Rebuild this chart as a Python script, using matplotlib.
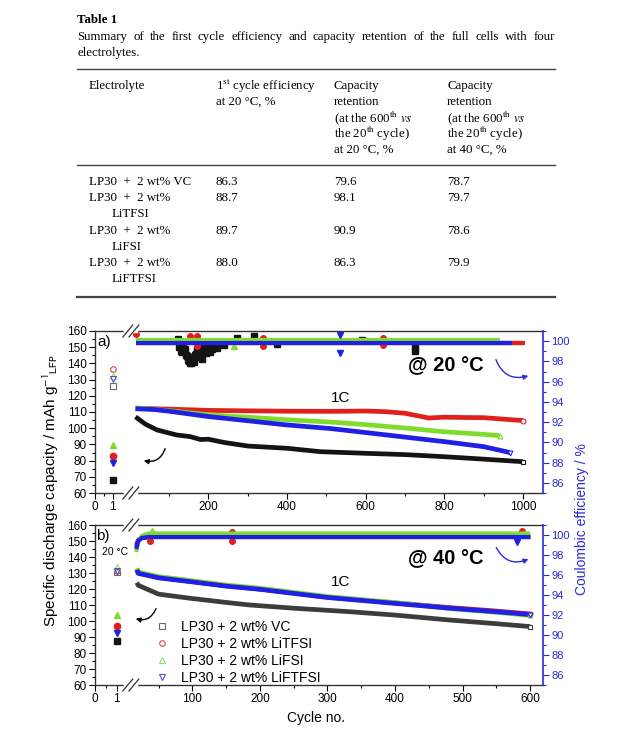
import numpy as np
import matplotlib
matplotlib.use('Agg')
import matplotlib.pyplot as plt
from matplotlib.lines import Line2D
from matplotlib.patches import FancyArrowPatch
from matplotlib.ticker import FixedLocator, MultipleLocator

plt.rcParams['font.family'] = ['Liberation Sans', 'DejaVu Sans']

# ---- Table 1 values ----
additives = ['VC', 'LiTFSI', 'LiFSI', 'LiFTFSI']
first_eff = ['86.3', '88.7', '89.7', '88.0']
ret_20C = ['79.6', '98.1', '90.9', '86.3']
ret_40C = ['78.7', '79.7', '78.6', '79.9']

# ---- panel a) 20 C, cycles 1..1000 ----
a_cyc1_cap = [126.0, 136.3, 132.5, 130.2]     # open symbols, left axis
a_cyc1_ce = [86.3, 88.7, 89.7, 88.0]          # filled symbols, right axis
a_cap_c = [
    [15, 40, 70, 120, 154, 180, 200, 240, 300, 400, 485, 600, 700, 800, 900, 1000],
    [15, 100, 200, 300, 400, 510, 600, 650, 700, 760, 800, 850, 900, 950, 1000],
    [15, 100, 200, 300, 400, 510, 600, 700, 800, 900, 940],
    [15, 60, 100, 200, 300, 400, 510, 600, 700, 800, 900, 966],
]
a_cap_q = [
    [107.0, 102.5, 98.9, 95.8, 94.8, 93.0, 93.2, 91.2, 89.0, 87.6, 85.5, 84.5, 83.7, 82.4, 80.9, 79.3],
    [112.3, 111.8, 111.0, 110.7, 110.5, 110.4, 110.6, 110.2, 109.2, 106.3, 106.8, 106.6, 106.5, 105.6, 104.7],
    [112.6, 110.8, 108.3, 106.8, 105.2, 103.8, 102.2, 100.1, 97.8, 96.2, 95.4],
    [112.0, 111.6, 110.5, 107.2, 104.6, 102.0, 99.8, 97.3, 94.5, 91.7, 88.6, 85.0],
]
a_ce_c = [[15, 1000], [15, 1005], [15, 940], [15, 972]]
a_ce_v = [[99.8, 99.8], [99.85, 99.85], [100.1, 100.1], [99.85, 99.85]]
a_out_c = [
    [122, 125, 130, 132, 136, 140, 143, 145, 148, 150, 153, 155, 158, 160, 163, 166, 168, 172, 176,
     180, 183, 185, 190, 195, 200, 205, 210, 215, 222, 240, 273, 315, 375, 590, 726, 726],
    [17, 154, 171, 171, 340, 340, 644, 644],
    [264],
    [534, 534],
]
a_out_v = [
    [100.2, 99.4, 99.0, 98.9, 99.3, 99.2, 98.6, 98.5, 98.1, 98.0, 97.8, 97.8, 98.4, 98.3, 97.9, 98.6,
     98.7, 99.1, 98.4, 98.9, 99.2, 98.2, 99.3, 98.8, 99.5, 98.9, 99.2, 99.6, 99.3, 99.6, 100.3, 100.5,
     99.7, 100.1, 99.5, 99.0],
    [100.7, 100.5, 100.55, 99.5, 100.35, 99.5, 100.35, 99.6],
    [99.5],
    [100.6, 98.8],
]

# ---- panel b) 40 C, cycles 1..600 ----
b_cyc1_cap = [130.5, 131.0, 134.0, 131.2]
b_cyc1_ce = [89.4, 90.95, 92.0, 90.2]
b_cap_c = [
    [18, 20, 50, 97, 150, 185, 250, 333, 400, 481, 550, 600],
    [18, 20, 50, 97, 150, 200, 300, 400, 481, 550, 600],
    [18, 20, 50, 97, 150, 200, 300, 400, 481, 550, 600],
    [18, 20, 50, 97, 150, 200, 300, 400, 481, 550, 600],
]
b_cap_q = [
    [124.0, 122.3, 116.8, 114.2, 111.6, 110.0, 108.0, 105.8, 103.7, 100.6, 98.3, 96.5],
    [132.3, 130.1, 127.2, 124.8, 122.0, 120.0, 114.9, 111.3, 108.4, 106.2, 104.4],
    [133.0, 130.6, 127.8, 125.3, 122.5, 120.5, 115.3, 111.5, 107.8, 105.4, 103.5],
    [132.0, 129.8, 127.0, 124.6, 121.8, 119.8, 114.7, 111.0, 108.0, 105.8, 104.0],
]
b_ce_c = [[17, 20, 25, 35, 600]] * 4
b_ce_v = [
    [99.0, 99.5, 99.7, 99.8, 99.8],
    [98.8, 99.4, 99.7, 99.8, 99.8],
    [98.3, 99.3, 99.9, 100.15, 100.15],
    [98.6, 99.4, 99.7, 99.8, 99.8],
]
b_out_c = [[], [37, 158, 158, 587], [40], [580]]
b_out_v = [[], [99.45, 100.3, 99.4, 100.45], [100.4], [99.3]]

names = ['LP30 + 2 wt% ' + a for a in additives]
colors = ['#141414', '#e0201c', '#7fdc2a', '#1f1fe6']
light = ['#6a6a6a', '#d04848', '#90e070', '#5050d0']
marks = ['s', 'o', '^', 'v']
blue = '#2b2bd9'

W, H = 637, 746
fig = plt.figure(figsize=(W / 100, H / 100), dpi=100)


def fx(px):
    return px / W


def fy(py):
    return 1 - py / H


def hline(y, x0=77, x1=555, lw=1.0):
    fig.add_artist(Line2D([fx(x0), fx(x1)], [fy(y), fy(y)], color='#444444', lw=lw,
                          transform=fig.transFigure))


# ---------------- table ----------------
serif = dict(family='Liberation Serif', fontsize=9.3, va='center', math_fontfamily='stix')


def justified(line, x0, x1, y):
    words = line.split()
    texts = [fig.text(fx(x0), fy(y), w, **serif) for w in words]
    rend = fig.canvas.get_renderer()
    widths = [t.get_window_extent(rend).width for t in texts]
    gap = (x1 - x0 - sum(widths)) / (len(words) - 1)
    x = x0
    for t, w in zip(texts, widths):
        t.set_x(fx(x))
        x += w + gap


fig.text(fx(77), fy(20), 'Table 1', weight='bold', **serif)
justified('Summary of the first cycle efficiency and capacity retention of the full cells with four',
          77, 555, 37)
fig.text(fx(77), fy(53), 'electrolytes.', **serif)
hline(69)
fig.text(fx(89), fy(86), 'Electrolyte', **serif)
col2 = ['1$^{\\rm st}$ cycle efficiency', 'at 20 \u00b0C, %']
col3 = ['Capacity', 'retention', '(at the 600$^{\\rm th}$ $\\it{vs}$', 'the 20$^{\\rm th}$ cycle)', 'at 20 \u00b0C, %']
col4 = ['Capacity', 'retention', '(at the 600$^{\\rm th}$ $\\it{vs}$', 'the 20$^{\\rm th}$ cycle)', 'at 40 \u00b0C, %']
for i, s in enumerate(col2):
    fig.text(fx(216), fy(86 + 16 * i), s, **serif)
for i, s in enumerate(col3):
    fig.text(fx(334), fy(86 + 16 * i), s, **serif)
for i, s in enumerate(col4):
    fig.text(fx(447), fy(86 + 16 * i), s, **serif)
hline(165)
row_y = [182, 198, 231, 263]
for i, a in enumerate(additives):
    y = row_y[i]
    if i == 0:
        fig.text(fx(89), fy(y), 'LP30  +  2 wt% ' + a, **serif)
    else:
        fig.text(fx(89), fy(y), 'LP30  +  2 wt%', **serif)
        fig.text(fx(112), fy(y + 16), a, **serif)
    fig.text(fx(216), fy(y), first_eff[i], **serif)
    fig.text(fx(334), fy(y), ret_20C[i], **serif)
    fig.text(fx(447), fy(y), ret_40C[i], **serif)
hline(296.5, lw=1.6)


# ---------------- charts ----------------
def piecewise(k1, knee, k2):
    xs = np.array([-100.0, knee, 5000.0])
    ps = np.array([-100.0 * k1, knee * k1, knee * k1 + (5000.0 - knee) * k2])
    return (lambda x: np.interp(x, xs, ps), lambda p: np.interp(p, ps, xs))


def panel(top, bot, k1, knee, k2, cmax, majors, minors, cyc1_cap, cyc1_ce,
          cap_c, cap_q, ce_c, ce_v, out_c, out_v, vc_col):
    ax = fig.add_axes([fx(95), fy(bot), (543 - 95) / W, (bot - top) / H])
    ax.set_xscale('function', functions=piecewise(k1, knee, k2))
    ax.set_xlim(0, cmax)
    ax.set_ylim(60, 160)
    ax.xaxis.set_major_locator(FixedLocator(majors))
    ax.xaxis.set_minor_locator(FixedLocator(minors))
    ax.set_xticklabels([str(m) for m in majors])
    ax.yaxis.set_major_locator(MultipleLocator(10))
    ax.yaxis.set_minor_locator(MultipleLocator(5))
    ax.tick_params(which='both', direction='out', labelsize=8.5, width=0.8, pad=2)
    ax.tick_params(which='major', length=4)
    ax.tick_params(which='minor', length=2.5)
    ax.spines['right'].set_visible(False)
    for s in ['left', 'bottom', 'top']:
        ax.spines[s].set_color('#333333')
        ax.spines[s].set_linewidth(1.0)

    ax2 = ax.twinx()
    ax2.set_ylim(85, 101)
    ax2.yaxis.set_major_locator(FixedLocator(list(range(86, 101, 2))))
    ax2.yaxis.set_minor_locator(MultipleLocator(1))
    ax2.tick_params(which='both', direction='out', colors=blue, labelsize=8, width=0.8, pad=2)
    ax2.tick_params(which='major', length=4)
    ax2.tick_params(which='minor', length=2.5)
    for s in ['left', 'top', 'bottom']:
        ax2.spines[s].set_visible(False)
    ax2.spines['right'].set_color(blue)
    ax2.spines['right'].set_linewidth(1.2)

    for i in range(4):
        col = vc_col if i == 0 else colors[i]
        ax.plot(cap_c[i], cap_q[i], color=col, lw=3.4, solid_capstyle='butt', zorder=2 + i)
        ax.plot(cap_c[i][-1], cap_q[i][-1], marks[i], ms=3.5, mfc='white', mec=col,
                mew=0.8, zorder=7)
        ax.plot(1, cyc1_cap[i], marks[i], ms=4, mfc='none', mec=light[i], mew=0.8)
        ax2.plot(ce_c[i], ce_v[i], color=colors[i], lw=3.0, solid_capstyle='butt', zorder=2 + i)
        ax2.plot(out_c[i], out_v[i], marks[i], ls='none', color=colors[i], ms=4, zorder=2 + i)
        ax2.plot(1, cyc1_ce[i], marks[i], color=colors[i], ms=4.5)

    # axis break marks
    xb = 0.08
    for yb in (0, 1):
        ax2.plot([xb - 0.012, xb + 0.012], [yb, yb], color='white', lw=2.5,
                 transform=ax2.transAxes, clip_on=False, zorder=20)
        for dx in (-0.0068, 0.0068):
            ax2.plot([xb + dx - 0.011, xb + dx + 0.011], [yb - 0.037, yb + 0.037],
                     color='#333333', lw=0.9, transform=ax2.transAxes, clip_on=False, zorder=21)
    return ax, ax2


panel(331, 493, 17.7, 2.0, 0.3935, 1050.5, [0, 1, 200, 400, 600, 800, 1000],
      [0.5, 100, 300, 500, 700, 900], a_cyc1_cap, a_cyc1_ce, a_cap_c, a_cap_q,
      a_ce_c, a_ce_v, a_out_c, a_out_v, '#141414')
ax_b, ax_b2 = panel(525, 685, 21.7, 1.413, 0.676, 618.8, [0, 1, 100, 200, 300, 400, 500, 600],
                    [0.5, 50, 150, 250, 350, 450, 550], b_cyc1_cap, b_cyc1_ce, b_cap_c, b_cap_q,
                    b_ce_c, b_ce_v, b_out_c, b_out_v, '#3c3c3c')

handles = [Line2D([], [], ls='none', marker=marks[i], ms=4, mfc='none', mec=light[i], mew=0.8)
           for i in range(4)]
ax_b.legend(handles, names, loc='upper left', bbox_to_anchor=(0.1335, 0.405), frameon=False,
            fontsize=10, handlelength=1.0, handletextpad=0.9, labelspacing=0.2,
            borderpad=0, borderaxespad=0)

# annotations
fig.text(fx(104), fy(342.5), 'a)', ha='center', va='center', fontsize=11)
fig.text(fx(102.5), fy(536), 'b)', ha='center', va='center', fontsize=11)
fig.text(fx(115), fy(551.7), '20 \u00b0C', ha='center', va='center', fontsize=7.5)
fig.text(fx(341), fy(398), '1C', ha='center', va='center', fontsize=11)
fig.text(fx(341), fy(582.5), '1C', ha='center', va='center', fontsize=11)
fig.text(fx(446), fy(366), '@ 20 \u00b0C', ha='center', va='center', fontsize=14.5, weight='bold')
fig.text(fx(446), fy(558.3), '@ 40 \u00b0C', ha='center', va='center', fontsize=14.5, weight='bold')
for (x0, y0, x1, y1, rad, col) in [(166, 446, 141, 460, -0.5, 'black'),
                                   (157, 606, 133, 618, -0.5, 'black'),
                                   (495, 357, 531, 375, 0.5, blue),
                                   (495, 545, 531, 558, 0.5, blue)]:
    fig.add_artist(FancyArrowPatch((fx(x0), fy(y0)), (fx(x1), fy(y1)), transform=fig.transFigure,
                                   connectionstyle='arc3,rad=%s' % rad, arrowstyle='-|>',
                                   mutation_scale=7, lw=1.0, color=col))

fig.text(fx(51), fy(490), 'Specific discharge capacity / mAh g$^{-1}$$_{\\rm LFP}$', rotation=90,
         ha='center', va='center', fontsize=11, math_fontfamily='stixsans')
fig.text(fx(582), fy(519), 'Coulombic efficiency / %', rotation=90, ha='center', va='center',
         fontsize=10, color=blue)
fig.text(fx(316), fy(718), 'Cycle no.', ha='center', va='center', fontsize=10)

fig.savefig('out.png', dpi=100)
